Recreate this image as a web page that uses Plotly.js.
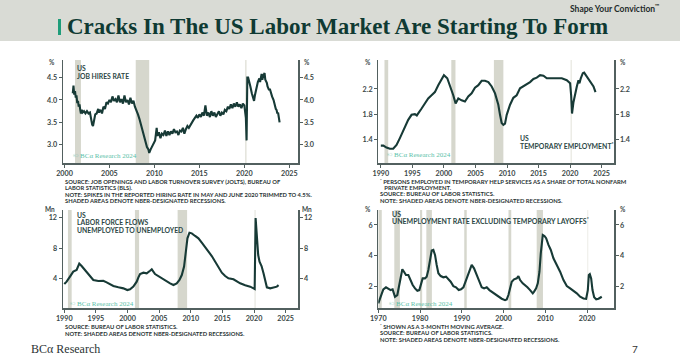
<!DOCTYPE html>
<html><head><meta charset="utf-8">
<script src="https://cdn.plot.ly/plotly-3.0.1.min.js"></script>
<style>html,body{margin:0;padding:0;background:#fff;}#chart{width:680px;height:361px;}</style>
</head><body><div id="chart"></div>
<script>
// ---------------- DATA ----------------
const hiresYears = [2000.92,2001.0,2001.08,2001.17,2001.25,2001.33,2001.42,2001.5,2001.58,2001.67,2001.75,2001.83,2001.92,2002.0,2002.17,2002.33,2002.5,2002.67,2002.83,2002.92,2003.08,2003.17,2003.33,2003.42,2003.58,2003.75,2003.83,2004.0,2004.17,2004.33,2004.5,2004.67,2004.83,2005.0,2005.17,2005.33,2005.5,2005.67,2005.83,2006.0,2006.17,2006.33,2006.5,2006.67,2006.83,2007.0,2007.17,2007.33,2007.5,2007.67,2007.83,2008.0,2008.17,2008.33,2008.5,2008.67,2008.83,2009.0,2009.17,2009.33,2009.42,2009.58,2009.75,2009.92,2010.08,2010.25,2010.33,2010.5,2010.67,2010.83,2011.0,2011.17,2011.33,2011.5,2011.67,2011.83,2012.0,2012.17,2012.33,2012.5,2012.67,2012.83,2013.0,2013.17,2013.33,2013.5,2013.67,2013.83,2014.0,2014.17,2014.33,2014.5,2014.67,2014.83,2015.0,2015.17,2015.33,2015.5,2015.67,2015.83,2016.0,2016.17,2016.33,2016.5,2016.67,2016.83,2017.0,2017.17,2017.33,2017.5,2017.67,2017.83,2018.0,2018.17,2018.33,2018.5,2018.67,2018.83,2019.0,2019.17,2019.33,2019.5,2019.67,2019.83,2020.0,2020.17,2020.25,2020.33,2020.42,2020.5,2020.67,2020.83,2021.0,2021.08,2021.17,2021.33,2021.5,2021.67,2021.75,2021.92,2022.0,2022.08,2022.25,2022.33,2022.5,2022.58,2022.75,2022.83,2023.0,2023.08,2023.25,2023.33,2023.5,2023.58,2023.67,2023.75,2023.83,2023.92];
const hiresRate = [4.15,4.32,4.12,4.2,4.05,4.1,3.93,3.98,3.85,3.9,3.78,3.7,3.78,3.72,3.75,3.7,3.75,3.7,3.72,3.6,3.45,3.42,3.62,3.68,3.7,3.8,3.72,3.78,3.7,3.85,3.8,3.95,3.92,4.0,3.95,4.08,3.98,4.02,3.95,4.1,3.95,4.02,3.92,4.1,3.95,4.0,3.9,4.05,3.92,3.98,3.85,3.78,3.68,3.58,3.45,3.35,3.22,3.12,2.95,2.9,2.82,2.9,2.98,3.05,3.1,3.38,3.2,3.28,3.15,3.25,3.22,3.32,3.2,3.3,3.22,3.3,3.25,3.35,3.28,3.3,3.22,3.32,3.3,3.38,3.25,3.35,3.42,3.38,3.45,3.5,3.55,3.6,3.65,3.6,3.68,3.62,3.72,3.65,3.88,3.65,3.72,3.62,3.75,3.65,3.72,3.62,3.7,3.75,3.65,3.72,3.68,3.78,3.75,3.85,3.8,3.9,3.82,3.92,3.85,3.95,3.85,3.9,3.82,3.92,3.88,3.6,3.1,4.5,4.5,4.45,4.3,4.15,4.05,3.98,4.1,4.25,4.4,4.48,4.4,4.58,4.45,4.52,4.6,4.45,4.38,4.3,4.22,4.25,4.12,4.08,4.0,3.92,3.8,3.78,3.7,3.72,3.6,3.5];

const tempYears = [1990.0,1990.4,1990.9,1991.43,1991.96,1992.49,1993.02,1993.81,1994.34,1994.87,1995.4,1995.7,1995.93,1996.46,1996.98,1997.51,1998.04,1998.57,1999.1,1999.63,2000.0,2000.53,2000.95,2001.48,2001.85,2002.28,2002.8,2003.33,2003.86,2004.39,2004.92,2005.45,2005.98,2006.51,2007.04,2007.57,2008.1,2008.62,2008.89,2009.15,2009.42,2009.68,2009.95,2010.48,2011.0,2011.53,2012.06,2012.59,2013.12,2013.65,2014.18,2014.71,2015.24,2015.77,2016.3,2017.09,2017.88,2018.68,2019.47,2020.0,2020.16,2020.3,2020.53,2020.79,2021.06,2021.32,2021.48,2021.69,2022.01,2022.22,2022.54,2022.91,2023.28,2023.7,2024.02];
const tempShare = [1.30,1.30,1.27,1.25,1.25,1.31,1.42,1.58,1.71,1.79,1.80,1.78,1.81,1.89,1.97,2.05,2.10,2.15,2.26,2.37,2.42,2.37,2.26,2.10,1.97,2.05,2.02,2.00,2.08,2.13,2.22,2.26,2.33,2.33,2.31,2.24,2.13,1.95,1.79,1.66,1.63,1.65,1.79,1.95,2.06,2.10,2.21,2.24,2.27,2.31,2.36,2.38,2.42,2.41,2.37,2.37,2.38,2.37,2.34,2.29,2.10,1.81,1.99,2.13,2.24,2.34,2.29,2.37,2.45,2.46,2.41,2.37,2.31,2.24,2.15];

const flowYears = [1990.0,1990.37,1990.9,1991.42,1991.95,1992.22,1992.37,1992.74,1993.27,1994.06,1994.59,1995.38,1996.17,1996.7,1997.23,1997.76,1998.55,1999.34,1999.97,2000.4,2000.92,2001.45,2001.72,2001.98,2002.51,2003.03,2003.56,2003.83,2004.35,2005.15,2005.94,2006.73,2007.26,2007.78,2008.21,2008.58,2008.94,2009.21,2009.47,2009.79,2010.16,2010.69,2011.21,2011.74,2012.27,2012.8,2013.32,2013.85,2014.38,2014.91,2015.44,2015.96,2016.75,2017.28,2017.81,2018.6,2019.39,2019.92,2020.1,2020.25,2020.45,2020.66,2020.87,2021.19,2021.5,2021.77,2022.03,2022.56,2023.09,2023.61,2023.88];
const flowUU = [3.34,3.65,4.3,4.95,5.16,5.8,6.0,5.68,5.16,4.38,3.86,3.73,3.77,3.56,3.34,3.08,2.91,2.78,2.56,2.65,3.0,3.65,4.2,4.64,4.81,4.73,5.07,5.25,4.64,4.2,3.86,3.43,3.21,3.43,3.86,4.51,5.6,7.76,9.27,10.0,9.92,9.58,9.27,8.71,8.19,7.54,6.98,6.24,5.38,4.81,4.38,4.08,3.95,3.65,3.43,3.17,3.0,2.78,2.7,11.9,9.9,7.1,6.24,5.68,4.73,3.65,2.91,2.78,2.91,3.0,3.2];

const unempYears = [1970.0,1970.56,1971.2,1971.84,1972.4,1972.96,1973.43,1973.99,1974.55,1975.03,1975.35,1975.75,1976.15,1976.63,1977.19,1977.59,1978.23,1978.79,1979.35,1979.82,1980.22,1980.62,1981.18,1981.58,1981.98,1982.38,1982.78,1983.18,1983.58,1983.98,1984.38,1984.94,1985.57,1986.21,1986.77,1987.33,1987.97,1988.61,1989.25,1989.81,1990.37,1991.0,1991.56,1991.96,1992.36,1992.92,1993.56,1994.2,1994.76,1995.32,1995.96,1996.6,1997.16,1997.96,1998.75,1999.55,2000.35,2000.75,2001.15,2001.55,2001.95,2002.5,2003.15,2003.55,2003.95,2004.58,2005.14,2005.7,2006.34,2006.98,2007.3,2007.78,2008.18,2008.58,2008.9,2009.14,2009.38,2009.78,2010.18,2010.74,2011.3,2011.93,2012.73,2013.53,2014.33,2015.13,2015.93,2016.73,2017.52,2018.32,2019.12,2019.76,2020.16,2020.4,2020.64,2020.96,2021.28,2021.68,2022.16,2022.72,2023.1,2023.5];
const unempRate = [0.92,1.35,1.83,1.96,1.89,1.78,1.83,1.35,1.46,2.11,2.76,3.13,2.97,2.76,2.76,2.48,2.11,1.89,1.74,1.78,2.22,2.54,2.54,2.65,3.08,3.73,4.34,4.38,4.06,3.41,2.87,2.69,2.61,2.65,2.48,2.32,2.04,1.96,1.78,1.83,1.96,2.43,2.82,3.19,3.41,3.19,2.76,2.32,1.96,1.89,1.96,1.78,1.68,1.52,1.35,1.22,1.13,1.18,1.46,2.0,2.32,2.48,2.54,2.69,2.43,2.22,2.11,1.96,1.78,1.57,1.68,1.89,2.22,2.97,4.16,5.03,5.35,5.29,5.14,4.71,4.38,3.84,3.41,2.97,2.43,2.04,1.89,1.74,1.57,1.35,1.24,1.22,1.78,2.76,2.82,2.54,1.78,1.31,1.18,1.22,1.31,1.35];

const recessionStart = [1969.92,1973.83,1980.0,1981.5,1990.58,2001.17,2007.92,2020.08];
const recessionEnd   = [1970.83,1975.17,1980.5,1982.83,1991.17,2001.83,2009.42,2020.25];

const hiresTicks = [2000,2005,2010,2015,2020,2025];
const tempTicks  = [1990,1995,2000,2005,2010,2015,2020,2025];
const flowTicks  = [1990,1995,2000,2005,2010,2015,2020,2025];
const unempTicks = [1970,1980,1990,2000,2010,2020];
const hiresYTicks = [3.0,3.5,4.0,4.5];
const tempYTicks  = [1.4,1.8,2.2];
const flowYTicks  = [4,8,12];
const unempYTicks = [2,4,6];

// ---------------- LAYOUT ----------------
const W = 680, H = 361;
const px = x => x / W, py = y => 1 - y / H;
const lineCol = '#173a36', axCol = '#52605f', tickCol = '#3b4848';
const tickFont = {family:'Lato, sans-serif', size:7.2, color:tickCol, weight:700};

const panels = [
  {n:'', rn:5, X:hiresYears, Y:hiresRate, box:[62.7,298.3,60,163.3], xr:[1999.8,2026], yr:[2.59,4.89], xt:hiresTicks, yt:hiresYTicks, yfmt:v=>v.toFixed(1)},
  {n:'2', rn:6, X:tempYears, Y:tempShare, box:[378.3,614.3,60,163.3], xr:[1989.6,2027], yr:[1.02,2.66], xt:tempTicks, yt:tempYTicks, yfmt:v=>v.toFixed(1)},
  {n:'3', rn:7, X:flowYears, Y:flowUU, box:[62.7,298.3,210,308.3], xr:[1989.75,2027], yr:[0.19,12.95], xt:flowTicks, yt:flowYTicks, yfmt:v=>String(v)},
  {n:'4', rn:8, X:unempYears, Y:unempRate, box:[378.3,614.3,210,308.3], xr:[1970,2026.5], yr:[0.6,6.97], xt:unempTicks, yt:unempYTicks, yfmt:v=>String(v)}
];

const layout = {
  width: W, height: H, autosize:false,
  margin:{l:0,r:0,t:0,b:0,pad:0},
  paper_bgcolor:'#ffffff', plot_bgcolor:'rgba(0,0,0,0)',
  showlegend:false, shapes:[], annotations:[]
};
const traces = [];

panels.forEach(p => {
  const [x0,x1,y0,y1] = p.box;
  const xk = 'xaxis'+p.n, yk = 'yaxis'+p.n, yrk = 'yaxis'+p.rn;
  const xid = 'x'+p.n, yid = 'y'+p.n, yrid = 'y'+p.rn;
  layout[xk] = {domain:[px(x0),px(x1)], range:p.xr, anchor:yid, showline:true, linecolor:axCol, linewidth:1.2,
    ticks:'outside', ticklen:3, tickwidth:1, tickcolor:axCol, tickvals:p.xt, ticktext:p.xt.map(String),
    tickfont:tickFont, showgrid:false, zeroline:false, fixedrange:true};
  const yCommon = {range:p.yr, showline:true, linecolor:axCol, linewidth:1.2, ticks:'outside', ticklen:3, tickwidth:1,
    tickcolor:axCol, tickvals:p.yt, ticktext:p.yt.map(p.yfmt), tickfont:tickFont, showgrid:false, zeroline:false, fixedrange:true};
  layout[yk] = Object.assign({domain:[py(y1),py(y0)], anchor:xid, side:'left'}, yCommon);
  layout[yrk] = Object.assign({overlaying:yid, anchor:xid, side:'right'}, yCommon);
  traces.push({type:'scatter', mode:'lines', x:p.X, y:p.Y, xaxis:xid, yaxis:yid,
    line:{color:lineCol, width:2.1, shape:'linear'}, hoverinfo:'skip'});
  traces.push({type:'scatter', mode:'lines', x:p.X, y:p.Y, xaxis:xid, yaxis:yrid,
    line:{color:'rgba(0,0,0,0)', width:0}, hoverinfo:'skip', opacity:0});
  recessionStart.forEach((s,i) => {
    const e = recessionEnd[i];
    if (e < p.xr[0] || s > p.xr[1]) return;
    layout.shapes.push({type:'rect', xref:xid, yref:yid+' domain', x0:Math.max(s,p.xr[0]), x1:e, y0:0, y1:1,
      fillcolor: (s>2020? '#e4e4dc' : '#d6d7cd'), line:{width:0}, layer:'below'});
  });
});

// header band and accent bar
layout.shapes.push({type:'rect', xref:'paper', yref:'paper', x0:0, x1:1, y0:py(41), y1:1, fillcolor:'#d9dbd5', line:{width:0}, layer:'below'});
layout.shapes.push({type:'rect', xref:'paper', yref:'paper', x0:px(58), x1:px(61), y0:py(35), y1:py(19), fillcolor:'#1f9d7a', line:{width:0}, layer:'above'});

function txt(x, y, text, size, color, opt) {
  opt = opt || {};
  layout.annotations.push({xref:'paper', yref:'paper', x:px(x), y:py(y), text:text, showarrow:false,
    xanchor:opt.xa||'left', yanchor:'middle', align:opt.xa||'left',
    font:{family:opt.family||'Lato, sans-serif', size:size, color:color, weight:opt.weight||400}});
}

// Header
txt(65, 26.5, 'Cracks In The US Labor Market Are Starting To Form', 23, '#0f3a33', {family:'Liberation Serif, serif', weight:700});
txt(662, 8, 'Shape Your Conviction<sup>™</sup>', 8.5, '#1f2b2b', {xa:'right', weight:700});

// Panel labels
const labCol = '#2c4745';
txt(75, 68.5, 'US', 6.8, labCol, {weight:700});
txt(75, 75.5, 'JOB HIRES RATE', 6.8, labCol, {weight:700});
txt(518, 137.5, 'US', 6.8, labCol, {weight:700});
txt(518, 145.2, 'TEMPORARY EMPLOYMENT<sup>*</sup>', 6.9, labCol, {weight:700});
txt(75, 214.5, 'US', 6.8, labCol, {weight:700});
txt(75, 222.3, 'LABOR FORCE FLOWS', 6.8, labCol, {weight:700});
txt(75, 229.5, 'UNEMPLOYED TO UNEMPLOYED', 6.8, labCol, {weight:700});
txt(390, 214, 'US', 7, labCol, {weight:700});
txt(390, 220.7, 'UNEMPLOYMENT RATE EXCLUDING TEMPORARY LAYOFFS<sup>*</sup>', 7, labCol, {weight:700});

// Units
txt(57, 62, '%', 6.5, tickCol, {xa:'right', weight:700});
txt(302, 62, '%', 6.5, tickCol, {weight:700});
txt(373, 62, '%', 6.5, tickCol, {xa:'right', weight:700});
txt(618, 62, '%', 6.5, tickCol, {weight:700});
txt(57, 209.5, 'Mn', 6.5, tickCol, {xa:'right', weight:700});
txt(300, 209.5, 'Mn', 6.5, tickCol, {weight:700});
txt(373, 209.5, '%', 6.5, tickCol, {xa:'right', weight:700});
txt(618, 209.5, '%', 6.5, tickCol, {weight:700});

// Watermarks
const wm = '© BCα Research 2024', wmCol = '#5cc1a9';
txt(71, 155.5, wm, 7, wmCol, {family:'Liberation Serif, serif'});
txt(385, 155, wm, 7, wmCol, {family:'Liberation Serif, serif'});
txt(68, 304, wm, 7, wmCol, {family:'Liberation Serif, serif'});
txt(387, 304, wm, 7, wmCol, {family:'Liberation Serif, serif'});

// Notes
const noteCol = '#2a3434';
const notesTL = ['SOURCE: JOB OPENINGS AND LABOR TURNOVER SURVEY (JOLTS), BUREAU OF','LABOR STATISTICS (BLS).','NOTE: SPIKES IN THE REPORTED HIRING RATE IN MAY AND JUNE 2020 TRIMMED TO 4.5%.','SHADED AREAS DENOTE NBER-DESIGNATED RECESSIONS.'];
[181,187,194,200.5].forEach((y,i)=>txt(62.7, y, notesTL[i], 5.8, noteCol, {weight:700}));
const notesTR = ['<sup>*</sup> PERSONS EMPLOYED IN TEMPORARY HELP SERVICES AS A SHARE OF TOTAL NONFARM','   PRIVATE EMPLOYMENT.','SOURCE: BUREAU OF LABOR STATISTICS.','NOTE: SHADED AREAS DENOTE NBER-DESIGNATED RECESSIONS.'];
[181,187,193.5,200].forEach((y,i)=>txt(378.3, y, notesTR[i], 5.9, noteCol, {weight:700}));
const notesBL = ['SOURCE: BUREAU OF LABOR STATISTICS.','NOTE: SHADED AREAS DENOTE NBER-DESIGNATED RECESSIONS.'];
[326,333].forEach((y,i)=>txt(62.7, y, notesBL[i], 5.8, noteCol, {weight:700}));
const notesBR = ['<sup>*</sup> SHOWN AS A 3-MONTH MOVING AVERAGE.','SOURCE: BUREAU OF LABOR STATISTICS.','NOTE: SHADED AREAS DENOTE NBER-DESIGNATED RECESSIONS.'];
[326,332.7,339.3].forEach((y,i)=>txt(378.3, y, notesBR[i], 5.8, noteCol, {weight:700}));

// Footer
txt(29, 349, 'BCα Research', 12, '#2b3333', {family:'Liberation Serif, serif'});
txt(635, 349, '7', 10, '#333', {xa:'center'});

Plotly.newPlot('chart', traces, layout, {displayModeBar:false, staticPlot:true});
</script>
</body></html>
